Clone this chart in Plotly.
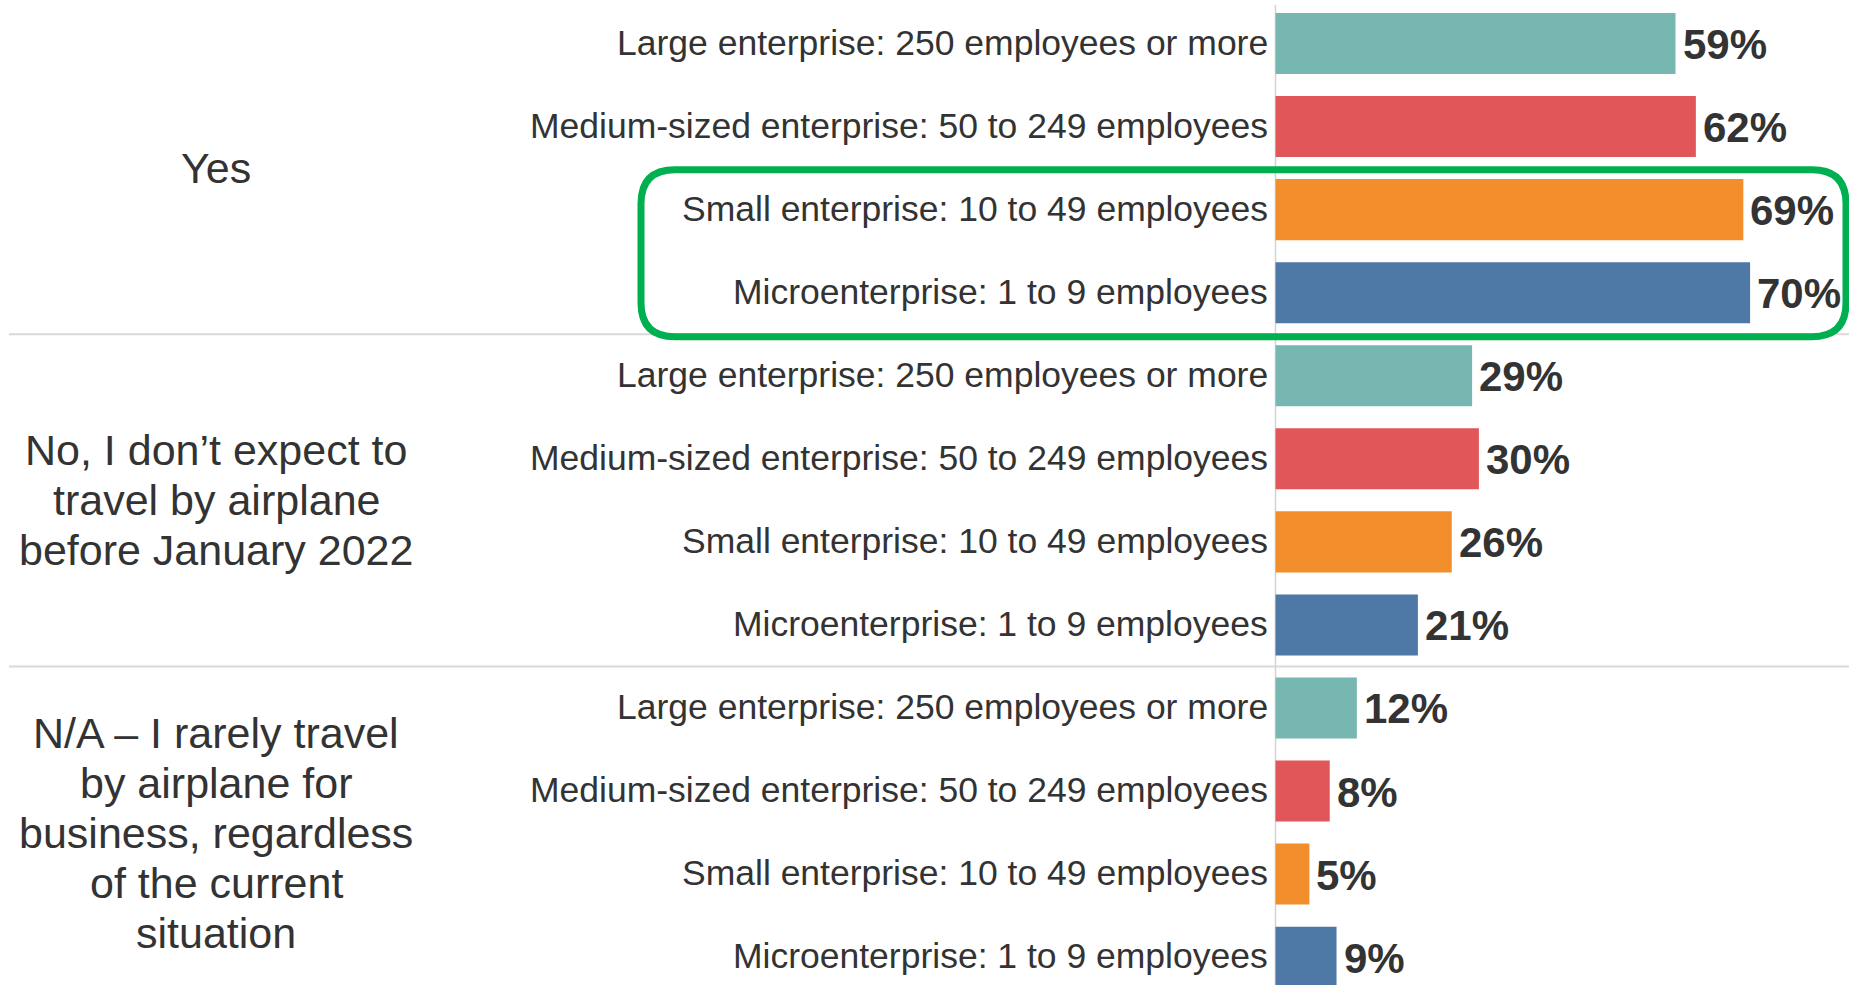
import plotly.graph_objects as go

# Survey answers (groups) and company-size breakdown
groups = [
    ["Yes"],
    ["No, I don\u2019t expect to", "travel by airplane", "before January 2022"],
    ["N/A \u2013 I rarely travel", "by airplane for", "business, regardless", "of the current", "situation"],
]
sizes = [
    "Large enterprise: 250 employees or more",
    "Medium-sized enterprise: 50 to 249 employees",
    "Small enterprise: 10 to 49 employees",
    "Microenterprise: 1 to 9 employees",
]
size_colors = ["#76B7B2", "#E15759", "#F28E2B", "#4E79A7"]

values_yes = [59, 62, 69, 70]
values_no = [29, 30, 26, 21]
values_na = [12, 8, 5, 9]
all_values = [values_yes, values_no, values_na]

W, H = 1849, 985
ZERO_PX = 1275.5          # horizontal pixel of the 0% baseline
PX_PER_PCT = 6.78         # horizontal scale
ROW_PX = 83.06            # row pitch
FIRST_ROW_PX = 43.5       # centre of the first row

x_min = -ZERO_PX / PX_PER_PCT
x_max = (W - ZERO_PX) / PX_PER_PCT
y_top = -FIRST_ROW_PX / ROW_PX
y_bot = y_top + H / ROW_PX

TEXT = "#333333"
FONT = "Arial, Liberation Sans, sans-serif"

fig = go.Figure()
annotations = []
shapes = []

row = 0
for g, vals in enumerate(all_values):
    rows = list(range(row, row + len(vals)))
    for i, v in enumerate(vals):
        fig.add_trace(go.Bar(
            x=[v], y=[rows[i]], orientation="h", width=0.735,
            marker=dict(color=size_colors[i], line=dict(width=0)),
            showlegend=False, hoverinfo="skip",
        ))
        annotations.append(dict(
            x=v, y=rows[i], xref="x", yref="y", text=f"{v}%",
            showarrow=False, xanchor="left", yanchor="middle", xshift=5, yshift=-1,
            font=dict(family=FONT, size=42, color=TEXT, weight="bold"),
        ))
        annotations.append(dict(
            x=0, y=rows[i], xref="x", yref="y", text=sizes[i],
            showarrow=False, xanchor="right", yanchor="middle", xshift=-6, yshift=1,
            font=dict(family=FONT, size=35.5, color=TEXT),
        ))
    # group label, one line at a time for tight line spacing
    centre = (rows[0] + rows[-1]) / 2
    lines = groups[g]
    n = len(lines)
    for k, line in enumerate(lines):
        annotations.append(dict(
            x=216 / W, y=centre, xref="paper", yref="y", text=line,
            showarrow=False, xanchor="center", yanchor="middle",
            yshift=-(k - (n - 1) / 2) * 50,
            font=dict(family=FONT, size=43, color=TEXT),
        ))
    if g < len(all_values) - 1:
        shapes.append(dict(
            type="line", xref="paper", yref="y", x0=9 / W, x1=1,
            y0=rows[-1] + 0.5, y1=rows[-1] + 0.5,
            line=dict(color="#d9d9d9", width=2), layer="below",
        ))
    row += len(vals)

# baseline at 0%
shapes.append(dict(
    type="line", xref="x", yref="paper", x0=0, x1=0, y0=0, y1=1 - 5 / H,
    line=dict(color="#d4d4d4", width=1.5), layer="below",
))

# rounded highlight around the two smallest company sizes under "Yes"
bx0, bx1 = 641 / W, 1846 / W
by0, by1 = 1.52, 3.53
rx = 34 / W
ry = 34 / ROW_PX
path = (
    f"M {bx0 + rx},{by0} L {bx1 - rx},{by0} Q {bx1},{by0} {bx1},{by0 + ry} "
    f"L {bx1},{by1 - ry} Q {bx1},{by1} {bx1 - rx},{by1} "
    f"L {bx0 + rx},{by1} Q {bx0},{by1} {bx0},{by1 - ry} "
    f"L {bx0},{by0 + ry} Q {bx0},{by0} {bx0 + rx},{by0} Z"
)
shapes.append(dict(
    type="path", xref="paper", yref="y", path=path,
    line=dict(color="#00B050", width=7), fillcolor="rgba(0,0,0,0)", layer="above",
))

fig.update_layout(
    width=W, height=H,
    margin=dict(l=0, r=0, t=0, b=0),
    paper_bgcolor="white", plot_bgcolor="white",
    barmode="overlay",
    xaxis=dict(range=[x_min, x_max], visible=False, fixedrange=True),
    yaxis=dict(range=[y_bot, y_top], visible=False, fixedrange=True),
    annotations=annotations,
    shapes=shapes,
)

fig.write_html("out.html", config={"displayModeBar": False})
